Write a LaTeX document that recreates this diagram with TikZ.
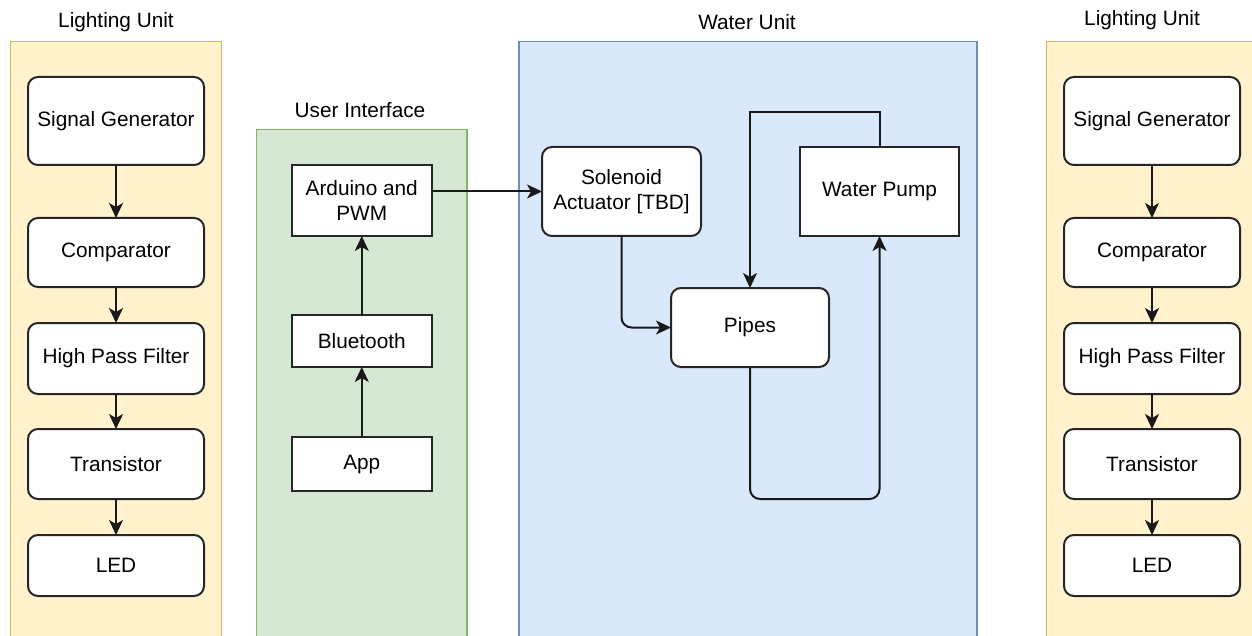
\documentclass[tikz,border=0pt]{standalone}
\usepackage{fontspec}
\setmainfont{Liberation Sans}
\usetikzlibrary{arrows.meta}
\definecolor{ylwfill}{HTML}{FFF2CC}
\definecolor{ylwline}{HTML}{D6B656}
\definecolor{grnfill}{HTML}{D5E8D4}
\definecolor{grnline}{HTML}{82B366}
\definecolor{blufill}{HTML}{DAE8FC}
\definecolor{bluline}{HTML}{6C8EBF}
\begin{document}
\begin{tikzpicture}[x=1pt,y=-1pt,
  every node/.style={font=\fontsize{20.8}{24.5}\selectfont, inner sep=0pt, outer sep=0pt},
  container/.style={draw, line width=1.8pt, anchor=north west},
  lightcont/.style={container, fill=ylwfill, draw=ylwline},
  uicont/.style={container, fill=grnfill, draw=grnline},
  watercont/.style={container, fill=blufill, draw=bluline},
  title/.style={text=black},
  rbox/.style={draw=black!85, fill=white, line width=2pt, rounded corners=10pt, align=center},
  sbox/.style={draw=black!85, fill=white, line width=2pt, align=center},
  arr/.style={draw=black!90, line width=2pt, -{Stealth[length=15pt,width=14pt,inset=4pt]}}
]
\useasboundingbox (0,0) rectangle (1252,636);
\clip (0,0) rectangle (1252,636);
\fill[white] (0,0) rectangle (1252,636);

% containers
\node[lightcont, minimum width=211pt, minimum height=600pt] (lcL) at (10.5,41.5) {};
\node[uicont, minimum width=210.5pt, minimum height=510pt] (uic) at (256.5,129.5) {};
\node[watercont, minimum width=458pt, minimum height=600pt] (wc) at (519,41.5) {};
\node[lightcont, minimum width=211pt, minimum height=600pt] (lcR) at (1046.5,41.5) {};

% titles
\node[title] (tL) at (116,22) {Lighting Unit};
\node[title] (tUI) at (360,110) {User Interface};
\node[title] (tW) at (747,22) {Water Unit};
\node[title] (tR) at (1142,20) {Lighting Unit};

% left lighting unit
\node[rbox, minimum width=176pt, minimum height=88pt] (sgL) at (116,121) {Signal Generator};
\node[rbox, minimum width=176pt, minimum height=69pt] (cmL) at (116,252.5) {Comparator};
\node[rbox, minimum width=176pt, minimum height=71pt] (hpL) at (116,358.5) {High Pass Filter};
\node[rbox, minimum width=176pt, minimum height=70pt] (trL) at (116,464) {Transistor};
\node[rbox, minimum width=176pt, minimum height=61pt] (ledL) at (116,565.5) {LED};

% right lighting unit
\node[rbox, minimum width=176pt, minimum height=88pt] (sgR) at (1152,121) {Signal Generator};
\node[rbox, minimum width=176pt, minimum height=69pt] (cmR) at (1152,252.5) {Comparator};
\node[rbox, minimum width=176pt, minimum height=71pt] (hpR) at (1152,358.5) {High Pass Filter};
\node[rbox, minimum width=176pt, minimum height=70pt] (trR) at (1152,464) {Transistor};
\node[rbox, minimum width=176pt, minimum height=61pt] (ledR) at (1152,565.5) {LED};

% user interface
\node[sbox, minimum width=140.5pt, minimum height=71pt] (ard) at (361.75,200.5) {Arduino and\\PWM};
\node[sbox, minimum width=140.5pt, minimum height=52pt] (bt) at (361.75,341) {Bluetooth};
\node[sbox, minimum width=140.5pt, minimum height=54pt] (app) at (361.75,464) {App};

% water unit
\node[rbox, minimum width=159pt, minimum height=89pt] (sol) at (621.5,191.5) {Solenoid\\Actuator [TBD]};
\node[sbox, minimum width=159pt, minimum height=89pt] (pump) at (879.5,191.5) {Water Pump};
\node[rbox, minimum width=158pt, minimum height=79pt] (pipes) at (750,327.5) {Pipes};

\coordinate (topturn) at (879.5,112);
\coordinate (botturn) at (750,499);

% connectors lighting
\foreach \u in {L,R}{
  \draw[arr] (sg\u) -- (cm\u);
  \draw[arr] (cm\u) -- (hp\u);
  \draw[arr] (hp\u) -- (tr\u);
  \draw[arr] (tr\u) -- (led\u);
}

% UI connectors
\draw[arr] (app) -- (bt);
\draw[arr] (bt) -- (ard);
\draw[arr] (ard.east |- sol.west) -- (sol.west);

% water connectors
\draw[arr, rounded corners=10pt] (sol.south) |- (pipes.west);
\draw[arr] (pump.north) -- (topturn) -| (pipes.north);
\draw[arr, rounded corners=10pt] (pipes.south) -- (botturn) -| (pump.south);
\end{tikzpicture}
\end{document}
